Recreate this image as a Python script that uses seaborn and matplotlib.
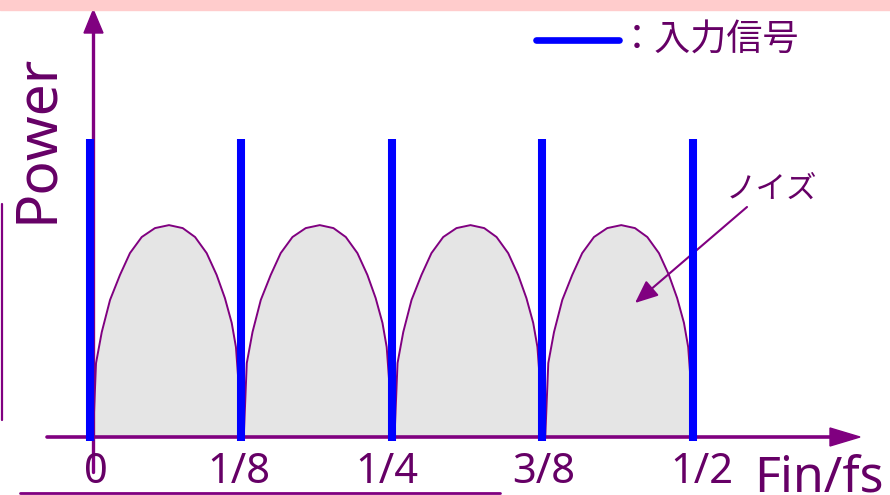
import numpy as np
import pandas as pd
import seaborn as sns
import matplotlib
matplotlib.use("Agg")
import matplotlib.pyplot as plt
import matplotlib.transforms as mtransforms
from matplotlib.patches import Polygon, Rectangle
from matplotlib.lines import Line2D

# ---- data -------------------------------------------------------------
# input tones (Fin/fs) and their power
tone_freqs = [0.0, 1 / 8, 1 / 4, 3 / 8, 1 / 2]
tone_power = [1.0, 1.0, 1.0, 1.0, 1.0]
tick_labels = ["0", "1/8", "1/4", "3/8", "1/2"]

# noise hump between two tones: position inside the 1/8 band and power
band_starts = [0.0, 1 / 8, 1 / 4, 3 / 8]
band_width = 1 / 8
hump_pos = [0.02, 0.04, 0.078, 0.133, 0.199, 0.265, 0.343, 0.431, 0.524,
            0.615, 0.697, 0.774, 0.84, 0.895, 0.94, 0.968, 0.99, 1.0]
hump_power = [0.0, 0.248, 0.352, 0.46, 0.544, 0.617, 0.671, 0.701, 0.711,
              0.701, 0.671, 0.617, 0.544, 0.466, 0.383, 0.302, 0.15, 0.0]

# ---- styling ----------------------------------------------------------
W, H, DPI = 890, 495, 100
AXIS = "#800080"
TEXT = "#660066"
BLUE = "#0000FF"
FILL = "#E5E5E5"

sns.set_theme(style="white")
plt.rcParams["font.family"] = ["Noto Sans", "Noto Sans CJK JP", "DejaVu Sans"]

fig = plt.figure(figsize=(W / DPI, H / DPI), dpi=DPI)
ax = fig.add_axes([0, 0, 1, 1])
ax.set_axis_off()

# data scale: 0 of Fin/fs at pixel 90, 1/2 at pixel 693; power 0 at y=437, 1 at y=139
x0_px, px_per_x = 90, 1206
y0_px, px_per_y = 437, 298
ax.set_xlim(-x0_px / px_per_x, (W - x0_px) / px_per_x)
ax.set_ylim(-(H - y0_px) / px_per_y, y0_px / px_per_y)

# pixel coordinates (origin top-left) for the decorations
pix = mtransforms.Affine2D().scale(1 / W, -1 / H).translate(0, 1) + fig.transFigure
xdata_ypix = mtransforms.blended_transform_factory(ax.transData, pix)

# ---- noise humps ------------------------------------------------------
rows = []
for b, start in enumerate(band_starts):
    for p, v in zip(hump_pos, hump_power):
        rows.append({"band": b, "f": start + p * band_width, "power": v})
noise = pd.DataFrame(rows)

for b, grp in noise.groupby("band"):
    ax.fill_between(grp["f"], 0, grp["power"], color=FILL, lw=0, zorder=1)
sns.lineplot(data=noise, x="f", y="power", units="band", estimator=None,
             color=AXIS, lw=1.4, ax=ax, zorder=2, legend=False)

# ---- axes with arrow heads -------------------------------------------
ax.add_line(Line2D([47, 832], [437, 437], color=AXIS, lw=2.6,
                   transform=pix, zorder=3, solid_capstyle="round"))
ax.add_patch(Polygon([[830, 428], [860, 437], [830, 446]], closed=True,
                     color=AXIS, transform=pix, zorder=3))
ax.add_line(Line2D([93.3, 93.3], [472, 30], color=AXIS, lw=2.4,
                   transform=pix, zorder=3))
ax.add_patch(Polygon([[84, 33], [93.3, 10], [103, 33]], closed=True,
                     color=AXIS, transform=pix, zorder=3))

# ---- input tones ------------------------------------------------------
ax.vlines(tone_freqs, -0.012, tone_power, colors=BLUE, lw=5.8, zorder=4)

# ---- tick labels and axis titles -------------------------------------
label_shift = [6, -2, -5, 1, 9]  # pixel nudges of the tick labels
for f, lab, dx in zip(tone_freqs, tick_labels, label_shift):
    ax.text(f, 483, lab, transform=xdata_ypix + mtransforms.Affine2D().translate(dx, 0),
            ha="center", va="baseline", fontsize=30, color=TEXT, zorder=5)
ax.text(754, 491, "Fin/fs", transform=pix, ha="left", va="baseline",
        fontsize=36, color=TEXT)
ax.text(52, 138, "Power", transform=pix, ha="center", va="baseline",
        rotation=90, rotation_mode="anchor", fontsize=41, color=TEXT)

# ---- legend -----------------------------------------------------------
ax.add_line(Line2D([536, 619], [40, 40], color=BLUE, lw=4.8, transform=pix))
ax.text(619, 41, "：入力信号", transform=pix, ha="left", va="center",
        fontsize=26, color=TEXT, family=["Noto Sans CJK JP", "DejaVu Sans"])

# ---- noise annotation -------------------------------------------------
ax.text(726, 189, "ノイズ", transform=pix, ha="left", va="center",
        fontsize=22, color=TEXT, family=["Noto Sans CJK JP", "DejaVu Sans"])
ax.annotate("", xy=(635, 303), xytext=(747, 207),
            xycoords=pix, textcoords=pix,
            arrowprops=dict(arrowstyle="-|>,head_length=0.7,head_width=0.3",
                            mutation_scale=20, color=AXIS, lw=1.5,
                            shrinkA=0, shrinkB=0))

# ---- frame decorations ------------------------------------------------
fig.patches.append(Rectangle((0, 0), W, 10, transform=pix, color="#FFCCCC",
                             zorder=0))
ax.add_line(Line2D([1.5, 1.5], [204, 420], color=AXIS, lw=1.6, transform=pix))
ax.add_line(Line2D([20, 500], [493, 493], color=AXIS, lw=2.0, transform=pix))

fig.savefig("out.png", dpi=DPI)
